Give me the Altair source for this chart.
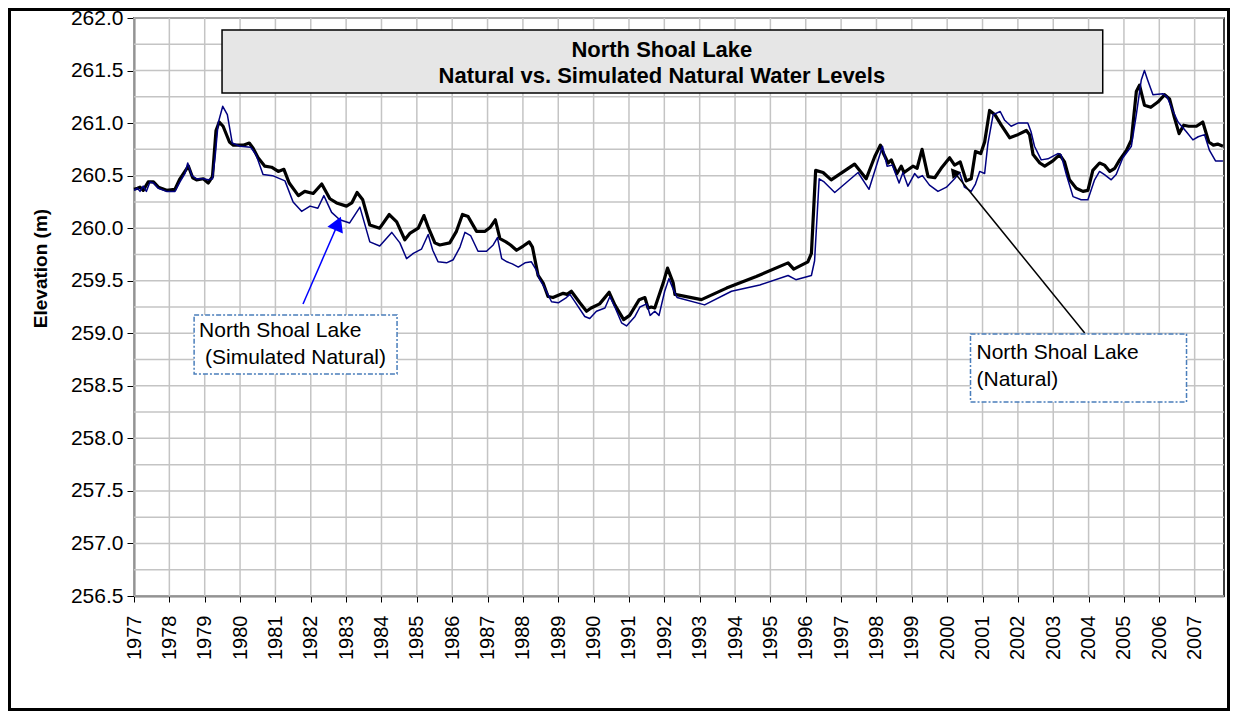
import altair as alt
import pandas as pd

# ---------------- data ----------------
nat_t = [1977.00, 1977.10, 1977.17, 1977.26, 1977.40, 1977.55, 1977.69, 1977.92, 1978.16, 1978.30,
         1978.44, 1978.54, 1978.66, 1978.77, 1978.96, 1979.10, 1979.22, 1979.32, 1979.41, 1979.52,
         1979.70, 1979.81, 1980.09, 1980.26, 1980.37, 1980.51, 1980.70, 1980.89, 1981.08, 1981.24,
         1981.39, 1981.65, 1981.83, 1982.07, 1982.31, 1982.54, 1982.73, 1983.01, 1983.16, 1983.31,
         1983.47, 1983.67, 1983.95, 1984.22, 1984.43, 1984.66, 1984.80, 1985.04, 1985.20, 1985.32,
         1985.51, 1985.65, 1985.93, 1986.12, 1986.29, 1986.45, 1986.69, 1986.93, 1987.08, 1987.22,
         1987.35, 1987.52, 1987.65, 1987.82, 1988.01, 1988.18, 1988.27, 1988.43, 1988.57, 1988.71,
         1988.85, 1989.14, 1989.25, 1989.37, 1989.61, 1989.80, 1989.93, 1990.17, 1990.27, 1990.44,
         1990.60, 1990.85, 1991.02, 1991.29, 1991.45, 1991.54, 1991.63, 1991.73, 1991.97, 1992.09,
         1992.25, 1992.30, 1993.05, 1993.76, 1994.60, 1995.50, 1995.66, 1996.06, 1996.16, 1996.28,
         1996.49, 1996.72, 1997.38, 1997.71, 1997.95, 1998.11, 1998.20, 1998.33, 1998.42, 1998.58,
         1998.70, 1998.78, 1999.03, 1999.15, 1999.29, 1999.46, 1999.65, 1999.83, 2000.07, 2000.21,
         2000.37, 2000.54, 2000.68, 2000.80, 2000.95, 2001.06, 2001.20, 2001.35, 2001.53, 2001.77,
         2002.00, 2002.24, 2002.33, 2002.43, 2002.62, 2002.76, 2002.99, 2003.18, 2003.32, 2003.46,
         2003.65, 2003.84, 2003.98, 2004.12, 2004.31, 2004.45, 2004.60, 2004.74, 2004.88, 2005.07,
         2005.21, 2005.35, 2005.44, 2005.58, 2005.76, 2005.96, 2006.15, 2006.29, 2006.43, 2006.56,
         2006.69, 2006.83, 2007.05, 2007.23, 2007.40, 2007.53, 2007.65, 2007.80]
nat_v = [260.37, 260.38, 260.39, 260.36, 260.44, 260.44, 260.39, 260.36, 260.37, 260.47,
         260.54, 260.59, 260.48, 260.46, 260.47, 260.43, 260.49, 260.93, 261.01, 260.97,
         260.82, 260.79, 260.79, 260.81, 260.76, 260.67, 260.59, 260.58, 260.54, 260.56,
         260.43, 260.31, 260.35, 260.33, 260.42, 260.28, 260.24, 260.21, 260.24, 260.34,
         260.27, 260.03, 260.00, 260.13, 260.06, 259.89, 259.95, 260.00, 260.12, 260.01,
         259.86, 259.84, 259.86, 259.97, 260.13, 260.11, 259.97, 259.97, 260.01, 260.08,
         259.90, 259.87, 259.84, 259.79, 259.83, 259.87, 259.82, 259.55, 259.48, 259.35,
         259.34, 259.38, 259.37, 259.40, 259.29, 259.21, 259.24, 259.28, 259.32, 259.39,
         259.27, 259.13, 259.17, 259.32, 259.34, 259.24, 259.25, 259.24, 259.48, 259.62,
         259.48, 259.37, 259.32, 259.43, 259.54, 259.67, 259.61, 259.68, 259.76, 260.55,
         260.53, 260.46, 260.61, 260.47, 260.68, 260.79, 260.71, 260.62, 260.65, 260.52,
         260.59, 260.53, 260.59, 260.57, 260.75, 260.49, 260.48, 260.57, 260.67, 260.60,
         260.63, 260.45, 260.47, 260.73, 260.71, 260.82, 261.12, 261.08, 260.98, 260.86,
         260.89, 260.93, 260.89, 260.70, 260.62, 260.59, 260.64, 260.70, 260.63, 260.46,
         260.38, 260.35, 260.36, 260.55, 260.62, 260.60, 260.54, 260.57, 260.65, 260.74,
         260.84, 261.30, 261.36, 261.17, 261.15, 261.20, 261.27, 261.23, 261.05, 260.90,
         260.98, 260.97, 260.97, 261.01, 260.82, 260.79, 260.80, 260.78]

sim_t = [1977.00, 1977.10, 1977.17, 1977.26, 1977.35, 1977.45, 1977.55, 1977.69, 1977.92, 1978.16,
         1978.30, 1978.44, 1978.52, 1978.64, 1978.77, 1978.96, 1979.10, 1979.22, 1979.30, 1979.38,
         1979.51, 1979.64, 1979.78, 1980.00, 1980.30, 1980.45, 1980.65, 1980.92, 1981.27, 1981.50,
         1981.74, 1981.98, 1982.20, 1982.37, 1982.59, 1982.82, 1983.10, 1983.39, 1983.67, 1983.95,
         1984.29, 1984.52, 1984.71, 1984.90, 1985.13, 1985.32, 1985.45, 1985.60, 1985.84, 1986.03,
         1986.22, 1986.36, 1986.52, 1986.73, 1986.97, 1987.16, 1987.28, 1987.40, 1987.55, 1987.70,
         1987.87, 1988.06, 1988.24, 1988.38, 1988.48, 1988.62, 1988.81, 1989.00, 1989.23, 1989.33,
         1989.45, 1989.75, 1989.89, 1990.08, 1990.32, 1990.46, 1990.60, 1990.79, 1990.93, 1991.17,
         1991.31, 1991.50, 1991.60, 1991.73, 1991.85, 1992.01, 1992.13, 1992.25, 1992.36, 1993.14,
         1993.90, 1994.70, 1995.50, 1995.72, 1996.16, 1996.25, 1996.38, 1996.52, 1996.82, 1997.48,
         1997.79, 1998.17, 1998.30, 1998.45, 1998.64, 1998.75, 1998.89, 1999.08, 1999.18, 1999.30,
         1999.50, 1999.74, 1999.98, 2000.21, 2000.35, 2000.49, 2000.68, 2000.80, 2000.92, 2001.06,
         2001.15, 2001.30, 2001.50, 2001.62, 2001.81, 2002.00, 2002.28, 2002.37, 2002.47, 2002.66,
         2002.85, 2003.13, 2003.22, 2003.37, 2003.56, 2003.79, 2003.98, 2004.17, 2004.31, 2004.45,
         2004.64, 2004.78, 2004.97, 2005.21, 2005.35, 2005.49, 2005.58, 2005.67, 2005.82, 2006.10,
         2006.22, 2006.38, 2006.53, 2006.76, 2006.95, 2007.10, 2007.28, 2007.42, 2007.59, 2007.80]
sim_v = [260.36, 260.38, 260.35, 260.40, 260.35, 260.44, 260.43, 260.38, 260.35, 260.35,
         260.44, 260.52, 260.62, 260.50, 260.47, 260.47, 260.46, 260.47, 260.70, 261.00,
         261.16, 261.08, 260.81, 260.78, 260.77, 260.70, 260.51, 260.50, 260.45, 260.25,
         260.16, 260.21, 260.19, 260.31, 260.15, 260.08, 260.05, 260.20, 259.87, 259.83,
         259.96, 259.86, 259.71, 259.76, 259.80, 259.94, 259.79, 259.68, 259.67, 259.70,
         259.82, 259.96, 259.93, 259.78, 259.78, 259.84, 259.91, 259.71, 259.68, 259.66,
         259.63, 259.67, 259.68, 259.60, 259.51, 259.43, 259.30, 259.29, 259.34, 259.37,
         259.31, 259.16, 259.14, 259.21, 259.24, 259.35, 259.25, 259.10, 259.07, 259.16,
         259.25, 259.28, 259.17, 259.21, 259.17, 259.40, 259.52, 259.42, 259.34, 259.27,
         259.40, 259.46, 259.55, 259.51, 259.55, 259.69, 260.47, 260.44, 260.34, 260.53,
         260.37, 260.78, 260.59, 260.60, 260.43, 260.53, 260.40, 260.52, 260.48, 260.50,
         260.41, 260.35, 260.39, 260.47, 260.53, 260.39, 260.35, 260.42, 260.54, 260.52,
         260.80, 261.08, 261.11, 261.03, 260.97, 261.00, 261.00, 260.92, 260.78, 260.65,
         260.66, 260.71, 260.70, 260.51, 260.30, 260.27, 260.27, 260.46, 260.54, 260.51,
         260.46, 260.51, 260.67, 260.78, 261.08, 261.41, 261.50, 261.41, 261.27, 261.28,
         261.25, 261.12, 261.01, 260.92, 260.84, 260.87, 260.89, 260.74, 260.64, 260.64]

year_ticks = list(range(1977, 2008))
elev_labels = [256.5 + 0.5 * i for i in range(12)]
elev_grid = [256.5 + 0.25 * i for i in range(23)]

title_lines = ["North Shoal Lake", "Natural vs. Simulated Natural Water Levels"]
sim_label = ["North Shoal Lake", "(Simulated Natural)"]
nat_label = ["North Shoal Lake", "(Natural)"]

FONT = "Liberation Sans"
GRID = "#c4c4c4"

nat_df = pd.DataFrame({"t": nat_t, "v": nat_v})
sim_df = pd.DataFrame({"t": sim_t, "v": sim_v})

x_scale = alt.Scale(domain=[1977, 2007.83], nice=False, zero=False)
y_scale = alt.Scale(domain=[256.5, 262.0], nice=False, zero=False)

x_axis = alt.Axis(values=year_ticks, format="d", labelAngle=-90, labelFontSize=20,
                  labelFont=FONT, labelColor="black", labelPadding=13, labelOverlap=False,
                  tickSize=6, tickColor="black", domainColor="black", domainWidth=1.5,
                  grid=False, title=None)
y_axis = alt.Axis(values=elev_labels, format=".1f", labelOverlap=False,
                  labelFontSize=21, labelFont=FONT, labelColor="black", labelPadding=4,
                  tickSize=7, tickColor="black",
                  domainColor="black", domainWidth=1.5, grid=False,
                  title="Elevation (m)", titleFont=FONT, titleFontSize=19, titleFontWeight="bold",
                  titleColor="black", titlePadding=20, titleY=250, titleAlign="center")

X = alt.X("t:Q", scale=x_scale, axis=x_axis)
Y = alt.Y("v:Q", scale=y_scale, axis=y_axis)

# gridlines from the tick arrays (same axis definitions so the merged axes agree)
vgrid = alt.Chart(pd.DataFrame({"t": year_ticks})).mark_rule(color=GRID, strokeWidth=1.5).encode(x=X)
hgrid = alt.Chart(pd.DataFrame({"v": elev_grid})).mark_rule(color=GRID, strokeWidth=1.5).encode(y=Y)

line_nat = alt.Chart(nat_df).mark_line(color="black", strokeWidth=3.2, strokeJoin="round").encode(x=X, y=Y)
line_sim = alt.Chart(sim_df).mark_line(color="#000080", strokeWidth=1.5, strokeJoin="round").encode(x=X, y=Y)

# title box
tbox = pd.DataFrame({"x1": [1979.49], "x2": [2004.40], "y1": [261.886], "y2": [261.286]})
title_box = alt.Chart(tbox).mark_rect(fill="#e6e6e6", stroke="black", strokeWidth=1.5).encode(
    x=alt.X("x1:Q", scale=x_scale, axis=x_axis), x2="x2:Q",
    y=alt.Y("y1:Q", scale=y_scale, axis=y_axis), y2="y2:Q")
tdf = pd.DataFrame({"t": [1991.93, 1991.93], "v": [261.700, 261.445], "txt": title_lines})
title_text = alt.Chart(tdf).mark_text(font=FONT, fontSize=22, fontWeight="bold", color="black",
                                      align="center", baseline="middle").encode(
    x=X, y=Y, text="txt:N")

# annotation boxes
abox = pd.DataFrame({"x1": [1978.70, 2000.66], "x2": [1984.44, 2006.77],
                     "y1": [259.174, 258.993], "y2": [258.613, 258.346]})
ann_boxes = alt.Chart(abox).mark_rect(fill="white", stroke="#4a7ebb", strokeWidth=1.5,
                                      strokeDash=[5, 2, 2, 2]).encode(
    x=alt.X("x1:Q", scale=x_scale, axis=x_axis), x2="x2:Q",
    y=alt.Y("y1:Q", scale=y_scale, axis=y_axis), y2="y2:Q")
adf = pd.DataFrame({"t": [1978.84, 1979.01, 2000.83, 2000.83],
                    "v": [259.022, 258.765, 258.813, 258.556],
                    "txt": sim_label + nat_label})
ann_text = alt.Chart(adf).mark_text(font=FONT, fontSize=21, color="black", align="left",
                                    baseline="middle").encode(x=X, y=Y, text="txt:N")

# arrows
arr1 = pd.DataFrame({"t": [1981.78, 1982.74], "v": [259.279, 260.02]})
arrow1 = alt.Chart(arr1).mark_line(color="#0000ff", strokeWidth=1.5).encode(x=X, y=Y)
head1 = alt.Chart(pd.DataFrame({"t": [1982.77], "v": [260.045]})).mark_point(
    shape="triangle-up", filled=True, color="#0000ff", opacity=1, size=280, angle=23).encode(x=X, y=Y)
arr2 = pd.DataFrame({"t": [2003.89, 2000.21], "v": [259.003, 260.528]})
arrow2 = alt.Chart(arr2).mark_line(color="black", strokeWidth=1.5).encode(x=X, y=Y)
head2 = alt.Chart(pd.DataFrame({"t": [2000.19], "v": [260.535]})).mark_point(
    shape="triangle-up", filled=True, color="black", opacity=1, size=120, angle=321).encode(x=X, y=Y)

# outer frame
frame = alt.Chart(pd.DataFrame({"a": [0]})).mark_rect(fill="transparent", stroke="black", strokeWidth=3).encode(
    x=alt.value(-124.5), x2=alt.value(1094.5), y=alt.value(-8.5), y2=alt.value(691.5))

chart = alt.layer(vgrid, hgrid, line_nat, line_sim, title_box, title_text, arrow1, head1, arrow2, head2,
                  ann_boxes, ann_text, frame).properties(
    width=1090, height=578,
    autosize=alt.AutoSizeParams(type="none"),
    padding={"left": 126, "top": 10, "right": 6, "bottom": 115},
    background="white",
).configure_view(stroke="black", strokeWidth=1.5)

chart.save("out.html", embed_options={"renderer": "svg", "actions": False})
